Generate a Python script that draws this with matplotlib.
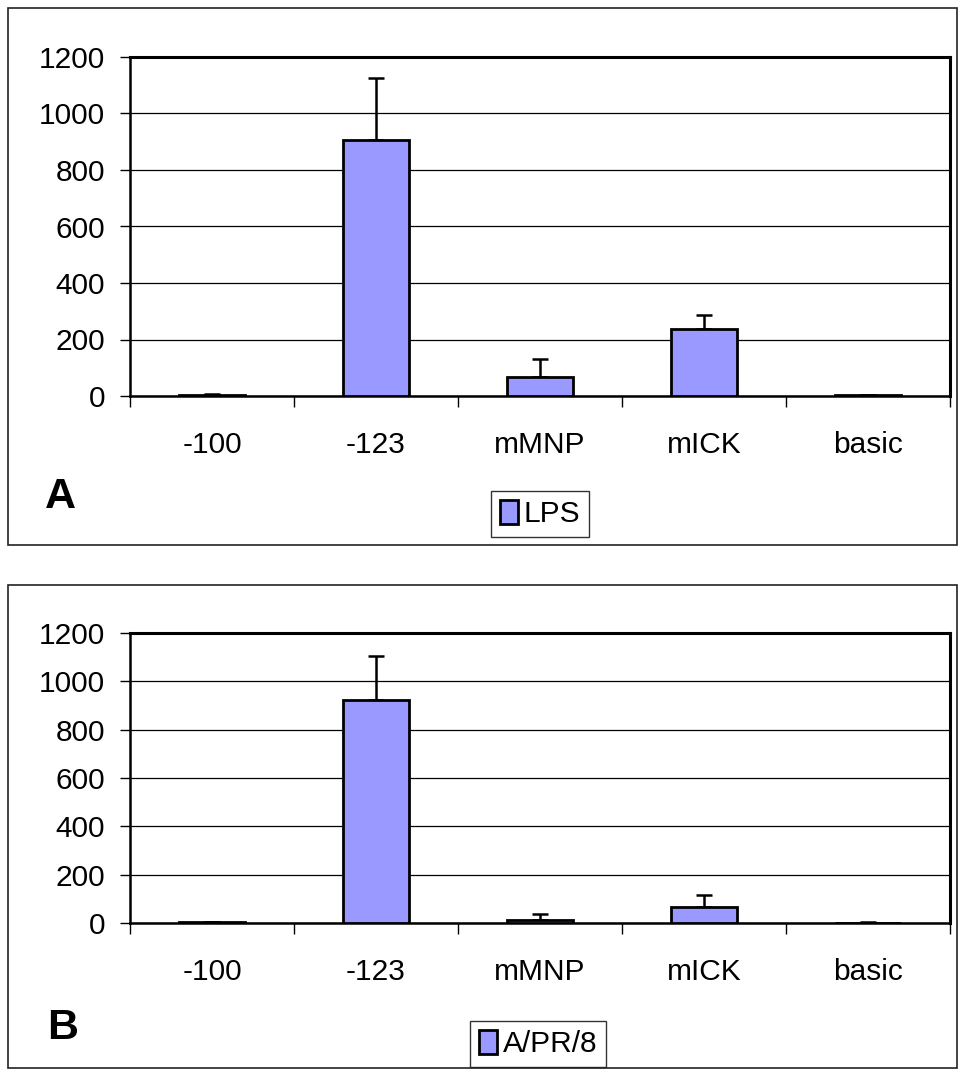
import numpy as np
import matplotlib
matplotlib.use("Agg")
import matplotlib.pyplot as plt
from matplotlib.patches import Rectangle

# Data
categories = ["-100", "-123", "mMNP", "mICK", "basic"]

lps_values = [5, 906, 68, 237, 3]
lps_errors = [3, 221, 63, 50, 1]

apr8_values = [3, 922, 12, 66, 2]
apr8_errors = [1, 183, 24, 48, 1]

y_ticks = [0, 200, 400, 600, 800, 1000, 1200]

BAR_COLOR = "#9999FF"
W, H = 960, 1070
FONT = ["Liberation Sans", "DejaVu Sans"]
FS = 21.5

plt.rcParams["font.family"] = FONT


def fig_rect(x0, y0, x1, y1):
    """pixel box (top-left origin) -> figure fraction [l, b, w, h]"""
    return [x0 / W, 1 - y1 / H, (x1 - x0) / W, (y1 - y0) / H]


def draw_panel(fig, plot_box, frame_box, values, errors, series, letter,
               letter_xy, legend_xy):
    # outer frame of the panel
    fx0, fy0, fx1, fy1 = frame_box
    fig.patches.append(Rectangle((fx0 / W, 1 - fy1 / H), (fx1 - fx0) / W,
                                 (fy1 - fy0) / H, transform=fig.transFigure,
                                 fill=False, edgecolor="#222222", lw=1.2))

    ax = fig.add_axes(fig_rect(*plot_box))
    x = np.arange(len(categories))
    bars = ax.bar(x, values, width=0.4, color=BAR_COLOR, edgecolor="black",
                  linewidth=2, label=series, zorder=3)
    ax.errorbar(x, values, yerr=[np.zeros(len(errors)), errors], fmt="none",
                ecolor="black", elinewidth=1.8, capsize=6, capthick=1.8,
                zorder=2)

    ax.set_xlim(-0.5, len(categories) - 0.5)
    ax.set_ylim(0, 1200)
    ax.set_yticks(y_ticks)
    ax.yaxis.grid(True, color="black", lw=0.9)
    ax.set_axisbelow(True)

    # tick marks at the category borders, labels in the centres
    ax.set_xticks(np.arange(-0.5, len(categories), 1.0))
    ax.set_xticklabels([])
    ax.set_xticks(x, minor=True)
    ax.set_xticklabels(categories, minor=True, fontsize=FS)
    ax.tick_params(axis="x", which="major", direction="out", length=8,
                   width=1)
    ax.tick_params(axis="x", which="minor", length=0, pad=25)
    ax.tick_params(axis="y", direction="out", length=7, width=1, pad=11,
                   labelsize=FS)

    for side in ["left", "bottom"]:
        ax.spines[side].set_linewidth(1.8)
    for side in ["top", "right"]:
        ax.spines[side].set_linewidth(2.2)

    fig.text(letter_xy[0] / W, 1 - letter_xy[1] / H, letter,
             fontsize=31, fontweight="bold", ha="center", va="center")

    leg = ax.legend(handles=[bars], loc="center",
                    bbox_to_anchor=(legend_xy[0] / W, 1 - legend_xy[1] / H),
                    bbox_transform=fig.transFigure, fancybox=False,
                    framealpha=1, edgecolor="#333333", handlelength=0.6,
                    handleheight=0.85, handletextpad=0.2, borderpad=0.3,
                    borderaxespad=0, fontsize=FS)
    leg.get_frame().set_linewidth(1.0)
    return ax


fig = plt.figure(figsize=(W / 100, H / 100), dpi=100)

draw_panel(fig, (130, 57, 950, 396), (8, 8, 957, 545), lps_values,
           lps_errors, "LPS", "A", (60, 497), (540, 514))
draw_panel(fig, (130, 633, 950, 923), (8, 585, 957, 1068), apr8_values,
           apr8_errors, "A/PR/8", "B", (63, 1028), (538, 1044))

fig.savefig("out.png", dpi=100)
